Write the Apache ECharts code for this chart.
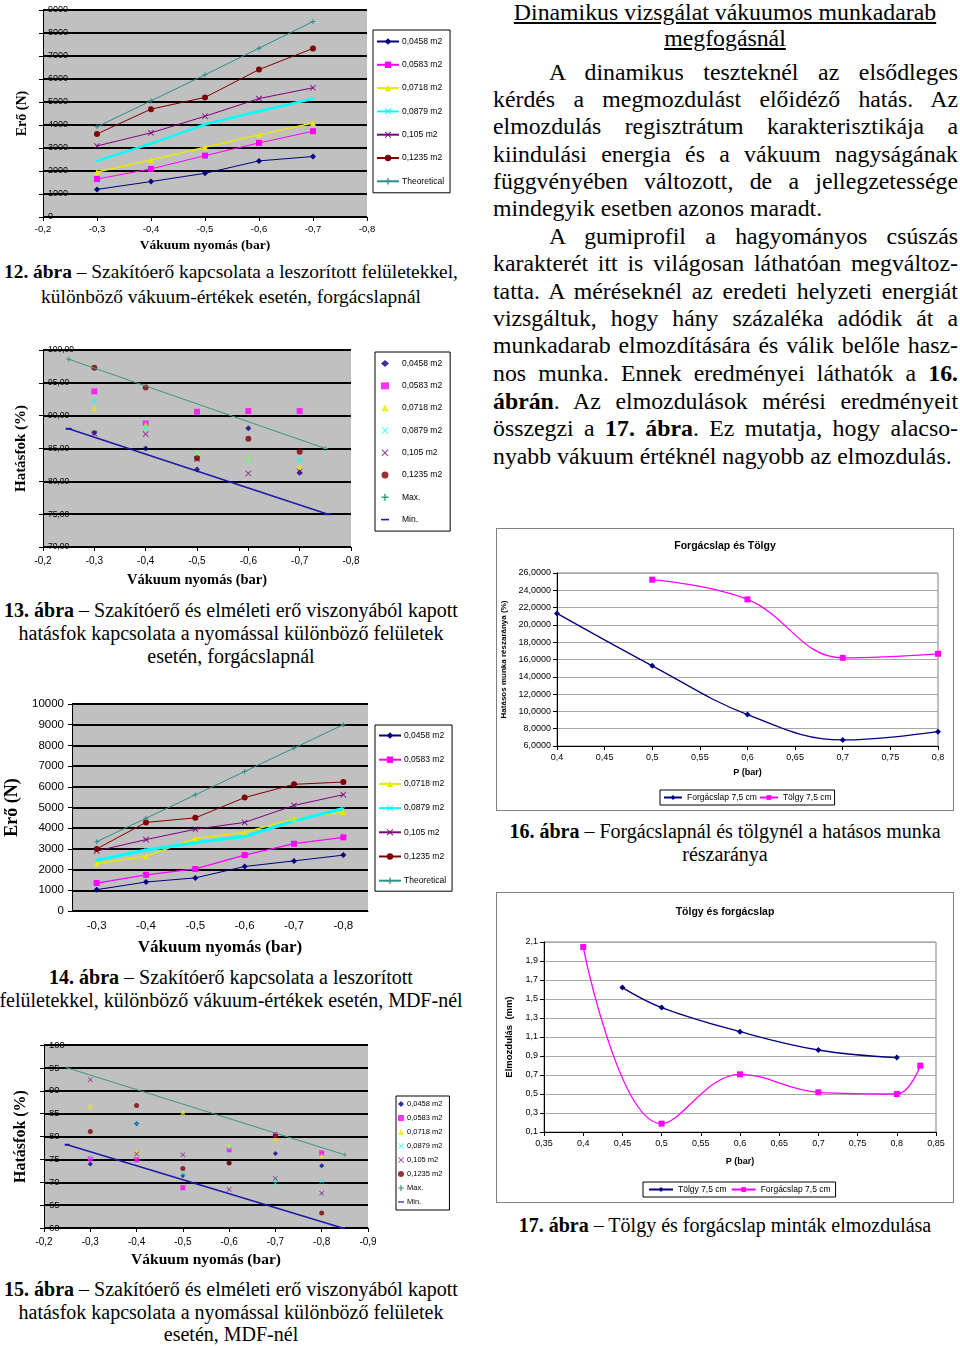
<!DOCTYPE html>
<html><head><meta charset="utf-8">
<script src="https://cdn.jsdelivr.net/npm/echarts/dist/echarts.min.js"></script>
<style>
body{margin:0;background:#fff;width:960px;height:1346px;position:relative;overflow:hidden;font-family:"Liberation Serif","Times New Roman",serif;color:#000}
.chart{position:absolute}
.frame{position:absolute;border:1px solid #808080;box-sizing:border-box}
.pl{position:absolute;left:493px;width:465px;height:28px;line-height:28px;font-size:23.8px;white-space:nowrap;text-align:justify;text-align-last:justify}
.pl.ind{padding-left:56px;width:409px}
.pl.last{text-align:left;text-align-last:left}
.tt{position:absolute;left:425px;width:600px;text-align:center;font-size:23.8px;line-height:28px;white-space:nowrap}
.tt span{text-decoration:underline}
.cap{position:absolute;width:600px;text-align:center;font-size:20px;line-height:24px;white-space:nowrap}
.cap.s{font-size:19.4px}
</style></head>
<body>
<!-- text column -->
<div class="tt" style="top:-2px"><span>Dinamikus vizsgálat vákuumos munkadarab</span></div>
<div class="tt" style="top:24px"><span>megfogásnál</span></div>
<div class="pl ind" style="top:58px">A dinamikus teszteknél az elsődleges</div>
<div class="pl" style="top:85px">kérdés a megmozdulást előidéző hatás. Az</div>
<div class="pl" style="top:112px">elmozdulás regisztrátum karakterisztikája a</div>
<div class="pl" style="top:140px">kiindulási energia és a vákuum nagyságának</div>
<div class="pl" style="top:167px">függvényében változott, de a jellegzetessége</div>
<div class="pl last" style="top:194px">mindegyik esetben azonos maradt.</div>
<div class="pl ind" style="top:222px">A gumiprofil a hagyományos csúszás</div>
<div class="pl" style="top:249px">karakterét itt is világosan láthatóan megváltoz-</div>
<div class="pl" style="top:277px">tatta. A méréseknél az eredeti helyzeti energiát</div>
<div class="pl" style="top:304px">vizsgáltuk, hogy hány százaléka adódik át a</div>
<div class="pl" style="top:331px">munkadarab elmozdítására és válik belőle hasz-</div>
<div class="pl" style="top:359px">nos munka. Ennek eredményei láthatók a <b>16.</b></div>
<div class="pl" style="top:387px"><b>ábrán</b>. Az elmozdulások mérési eredményeit</div>
<div class="pl" style="top:414px">összegzi a <b>17. ábra</b>. Ez mutatja, hogy alacso-</div>
<div class="pl last" style="top:442px">nyabb vákuum értéknél nagyobb az elmozdulás.</div>

<!-- captions -->
<div class="cap s" style="left:-69px;top:260px"><b>12. ábra</b> – Szakítóerő kapcsolata a leszorított felületekkel,</div>
<div class="cap s" style="left:-69px;top:285px">különböző vákuum-értékek esetén, forgácslapnál</div>
<div class="cap" style="left:-69px;top:598px"><b>13. ábra</b> – Szakítóerő és elméleti erő viszonyából kapott</div>
<div class="cap" style="left:-69px;top:621px">hatásfok kapcsolata a nyomással különböző felületek</div>
<div class="cap" style="left:-69px;top:644px">esetén, forgácslapnál</div>
<div class="cap" style="left:-69px;top:965px"><b>14. ábra</b> – Szakítóerő kapcsolata a leszorított</div>
<div class="cap" style="left:-69px;top:988px">felületekkel, különböző vákuum-értékek esetén, MDF-nél</div>
<div class="cap" style="left:-69px;top:1277px"><b>15. ábra</b> – Szakítóerő és elméleti erő viszonyából kapott</div>
<div class="cap" style="left:-69px;top:1300px">hatásfok kapcsolata a nyomással különböző felületek</div>
<div class="cap" style="left:-69px;top:1322px">esetén, MDF-nél</div>
<div class="cap" style="left:425px;top:819px"><b>16. ábra</b> – Forgácslapnál és tölgynél a hatásos munka</div>
<div class="cap" style="left:425px;top:842px">részaránya</div>
<div class="cap" style="left:425px;top:1213px"><b>17. ábra</b> – Tölgy és forgácslap minták elmozdulása</div>

<div class="frame" style="left:496px;top:528px;width:458px;height:283px"></div>
<div class="frame" style="left:496px;top:892px;width:458px;height:311px"></div>

<div id="c12" class="chart" style="left:0;top:0;width:460px;height:262px"></div>
<div id="c13" class="chart" style="left:0;top:340px;width:460px;height:256px"></div>
<div id="c14" class="chart" style="left:0;top:695px;width:460px;height:266px"></div>
<div id="c15" class="chart" style="left:0;top:1035px;width:460px;height:240px"></div>
<div id="c16" class="chart" style="left:496px;top:528px;width:458px;height:283px"></div>
<div id="c17" class="chart" style="left:496px;top:892px;width:458px;height:311px"></div>

<script>
// ---------- DATA ----------
const surfNames = ['0,0458 m2','0,0583 m2','0,0718 m2','0,0879 m2','0,105 m2','0,1235 m2'];

// Fig 12 (force, chipboard)
const c12X = [-0.3, -0.4, -0.5, -0.6, -0.7];
const c12_0458 = [1200, 1540, 1900, 2440, 2630];
const c12_0583 = [1650, 2090, 2670, 3220, 3730];
const c12_0718 = [1960, 2480, 3030, 3570, 4090];
const c12_0879 = [2440, 3190, 4030, 4600, 5140];
const c12_105  = [3090, 3660, 4380, 5150, 5620];
const c12_1235 = [3610, 4690, 5200, 6410, 7330];
const c12_theo = [3920, 5050, 6180, 7340, 8500];

// Fig 13 (efficiency, chipboard) [pressure, %]
const c13_0458 = [[-0.3,87.4],[-0.4,85.0],[-0.5,81.8],[-0.6,88.1],[-0.7,81.3]];
const c13_0583 = [[-0.3,93.7],[-0.4,88.8],[-0.5,90.6],[-0.6,90.7],[-0.7,90.7]];
const c13_0718 = [[-0.3,91.1],[-0.4,88.6],[-0.5,84.4],[-0.6,83.5],[-0.7,82.2]];
const c13_0879 = [[-0.3,92.2],[-0.4,88.2],[-0.5,84.1],[-0.6,83.3],[-0.7,83.3]];
const c13_105  = [[-0.3,87.3],[-0.4,87.2],[-0.5,83.4],[-0.6,81.2],[-0.7,81.5]];
const c13_1235 = [[-0.3,97.3],[-0.4,94.3],[-0.5,83.5],[-0.6,86.5],[-0.7,84.5]];
const c13_max  = [[-0.25,98.6],[-0.75,85.0]];
const c13_min  = [[-0.25,88.0],[-0.755,75.0]];

// Fig 14 (force, MDF)
const c14Cats = ['-0,3','-0,4','-0,5','-0,6','-0,7','-0,8'];
const c14_0458 = [1030, 1400, 1600, 2150, 2420, 2700];
const c14_0583 = [1350, 1750, 2030, 2700, 3250, 3560];
const c14_0718 = [2300, 2650, 3500, 3800, 4450, 4780];
const c14_0879 = [2450, 2950, 3300, 3600, 4350, 4950];
const c14_105  = [2900, 3450, 3950, 4280, 5100, 5620];
const c14_1235 = [3000, 4280, 4500, 5480, 6120, 6230];
const c14_theo = [3350, 4480, 5610, 6740, 7870, 9000];

// Fig 15 (efficiency, MDF)
const c15_0458 = [[-0.3,74.0],[-0.4,82.8],[-0.5,71.5],[-0.6,74.2],[-0.7,76.3],[-0.8,73.6]];
const c15_0583 = [[-0.3,75.1],[-0.4,74.9],[-0.5,68.8],[-0.6,77.1],[-0.7,80.4],[-0.8,76.4]];
const c15_0718 = [[-0.3,86.6],[-0.4,76.7],[-0.5,85.3],[-0.6,78.0],[-0.7,79.5],[-0.8,75.8]];
const c15_0879 = [[-0.3,75.4],[-0.4,82.8],[-0.5,71.8],[-0.6,77.5],[-0.7,69.8],[-0.8,70.2]];
const c15_105  = [[-0.3,92.4],[-0.4,76.2],[-0.5,76.0],[-0.6,68.4],[-0.7,70.8],[-0.8,67.6]];
const c15_1235 = [[-0.3,81.1],[-0.4,86.8],[-0.5,73.0],[-0.6,74.2],[-0.7,80.2],[-0.8,63.3]];
const c15_max  = [[-0.25,95.0],[-0.85,76.0]];
const c15_min  = [[-0.25,78.2],[-0.845,60.0]];

// Fig 16
const c16_forg  = [[0.4,21.33],[0.5,15.27],[0.6,9.63],[0.7,6.7],[0.8,7.66]];
const c16_tolgy = [[0.5,25.23],[0.6,22.95],[0.7,16.19],[0.8,16.66]];

// Fig 17
const c17_tolgy = [[0.45,1.62],[0.5,1.41],[0.6,1.156],[0.7,0.963],[0.8,0.883]];
const c17_forg  = [[0.4,2.047],[0.5,0.188],[0.6,0.707],[0.7,0.518],[0.8,0.5],[0.83,0.798]];

// ---------- STYLE ----------
const COL = ['#000080','#ff00ff','#e8e800','#00ffff','#800080','#800000'];
const THEO = '#2e8f8f', MAXC = '#3a9a78', MINC = '#1a1aa8';
const SYM_X = 'path://M0,1L1,0L5,4L9,0L10,1L6,5L10,9L9,10L5,6L1,10L0,9L4,5Z';
const SYM_PLUS = 'path://M4,0H6V4H10V6H6V10H4V6H0V4H4Z';
const SYM_DASH = 'path://M0,0H10V3H0Z';
const SYMS = ['diamond','rect','triangle',SYM_X,SYM_X,'circle'];
const SANS = '"Liberation Sans", Arial, sans-serif';
const SERIF = '"Liberation Serif","Times New Roman", serif';
const f1 = v => v.toFixed(1).replace('.', ',');
const f2 = v => v.toFixed(2).replace('.', ',');

function excelAxes(o){
  return {
    xAxis: {
      type:'value', inverse:true, min:o.xmin, max:o.xmax, interval:0.1,
      axisLine:{show:true,onZero:false,lineStyle:{color:'#000',width:1}},
      axisTick:{show:true,length:4,lineStyle:{color:'#000'}},
      axisLabel:{formatter:f1,fontSize:o.xfs||10,fontFamily:SANS,color:'#000',margin:o.xlm||8},
      splitLine:{show:false},
      name:'Vákuum nyomás (bar)', nameLocation:'middle', nameGap:o.xng,
      nameTextStyle:{fontFamily:SERIF,fontWeight:'bold',fontSize:o.xnfs,color:'#000'}
    },
    yAxis: {
      type:'value', min:o.ymin, max:o.ymax, interval:o.yint,
      axisLine:{show:true,onZero:false,lineStyle:{color:'#000',width:1}},
      axisTick:{show:true,length:4,inside:false,lineStyle:{color:'#000'}},
      axisLabel:{inside:o.yin,formatter:o.yfmt,fontSize:o.yfs,fontFamily:SANS,color:'#000',margin:o.ylm},
      splitLine:{show:true,lineStyle:{color:'#000',width:2}},
      name:o.yname, nameLocation:'middle', nameGap:o.yng,
      nameTextStyle:{fontFamily:SERIF,fontWeight:'bold',fontSize:o.ynfs,color:'#000'}
    }
  };
}
function legendBox(o){
  return Object.assign({
    orient:'vertical', backgroundColor:'#fff', borderColor:'#000', borderWidth:1,
    itemWidth:22, itemHeight:8, align:'left',
    textStyle:{fontSize:8.5,fontFamily:SANS,color:'#000',padding:[0,0,0,-2]}
  }, o);
}
const scatterLegendData = () => [...surfNames, {name:'Max.', icon:SYM_PLUS}, {name:'Min.', icon:'path://M0,0H10V2H0Z'}];

// ---- Fig 12 ----
(function(){
  const vals=[c12_0458,c12_0583,c12_0718,c12_0879,c12_105,c12_1235];
  const widths=[1,1,1.5,2.5,1,1];
  const series=vals.map((v,i)=>({
    name:surfNames[i], type:'line', data:v.map((y,k)=>[c12X[k],y]),
    symbol:SYMS[i], symbolSize: i===3?4:6, showSymbol:true,
    lineStyle:{color:COL[i],width:widths[i]}, itemStyle:{color:COL[i]}
  }));
  series.push({name:'Theoretical',type:'line',data:c12_theo.map((y,k)=>[c12X[k],y]),
    symbol:SYM_PLUS,symbolSize:5,lineStyle:{color:THEO,width:1},itemStyle:{color:THEO}});
  const ax=excelAxes({xmin:-0.8,xmax:-0.2,xng:22,xnfs:13.5,xfs:9.5,xlm:7,
    ymin:0,ymax:9000,yint:1000,yin:true,yfmt:v=>String(v),yfs:9,ylm:5,
    yname:'Erő (N)',yng:14,ynfs:14});
  const c=echarts.init(document.getElementById('c12'));
  c.setOption(Object.assign({animation:false,
    grid:{left:43,top:10,width:324,height:207,show:true,backgroundColor:'#c0c0c0',borderWidth:0,outerBoundsMode:'none'},
    legend:legendBox({left:373,top:30,padding:[7,6,7,3],itemGap:14.3,data:[...surfNames,'Theoretical']}),
    series},ax));
})();

// ---- Fig 13 ----
(function(){
  const vals=[c13_0458,c13_0583,c13_0718,c13_0879,c13_105,c13_1235];
  const series=vals.map((v,i)=>({
    name:surfNames[i], type:'scatter', data:v, symbol:SYMS[i], symbolSize:6,
    itemStyle:{color:COL[i]}
  }));
  series.push({name:'Max.',type:'line',data:c13_max,symbol:SYM_PLUS,symbolSize:5,lineStyle:{color:MAXC,width:1},itemStyle:{color:MAXC}});
  series.push({name:'Min.',type:'line',data:c13_min,symbol:SYM_DASH,symbolSize:[6,2],lineStyle:{color:MINC,width:1.5},itemStyle:{color:MINC}});
  const ax=excelAxes({xmin:-0.8,xmax:-0.2,xng:26,xnfs:14.5,xfs:10,xlm:9,
    ymin:70,ymax:100,yint:5,yin:true,yfmt:f2,yfs:8.5,ylm:5,
    yname:'Hatásfok (%)',yng:14,ynfs:15});
  const c=echarts.init(document.getElementById('c13'));
  c.setOption(Object.assign({animation:false,
    grid:{left:43,top:10,width:308,height:197,show:true,backgroundColor:'#c0c0c0',borderWidth:0,outerBoundsMode:'none'},
    legend:legendBox({left:375,top:12,padding:[7,8,7,6],itemGap:13.3,itemWidth:8,itemHeight:7,
      textStyle:{fontSize:8.5,fontFamily:SANS,color:'#000',padding:[0,0,0,8]},
      data:scatterLegendData()}),
    series},ax));
})();

// ---- Fig 14 ----
(function(){
  const vals=[c14_0458,c14_0583,c14_0718,c14_0879,c14_105,c14_1235];
  const widths=[1,1.3,1.5,3,1,1];
  const series=vals.map((v,i)=>({
    name:surfNames[i], type:'line', data:v,
    symbol:SYMS[i], symbolSize: i===3?4:6,
    lineStyle:{color:COL[i],width:widths[i]}, itemStyle:{color:COL[i]}
  }));
  series.push({name:'Theoretical',type:'line',data:c14_theo,symbol:SYM_PLUS,symbolSize:5,lineStyle:{color:THEO,width:1},itemStyle:{color:THEO}});
  const c=echarts.init(document.getElementById('c14'));
  c.setOption({animation:false,
    grid:{left:72,top:9,width:296,height:207,show:true,backgroundColor:'#c0c0c0',borderWidth:0,outerBoundsMode:'none'},
    legend:legendBox({left:375,top:30,padding:[6,6,6,3],itemGap:15.2,data:[...surfNames,'Theoretical']}),
    xAxis:{type:'category',data:c14Cats,boundaryGap:true,
      axisLine:{lineStyle:{color:'#000'}},axisTick:{length:5,lineStyle:{color:'#000'}},
      axisLabel:{fontSize:11.5,fontFamily:SANS,color:'#000',margin:9},
      name:'Vákuum nyomás (bar)',nameLocation:'middle',nameGap:28,
      nameTextStyle:{fontFamily:SERIF,fontWeight:'bold',fontSize:17,color:'#000'}},
    yAxis:{type:'value',min:0,max:10000,interval:1000,
      axisLine:{show:true,lineStyle:{color:'#000'}},axisTick:{show:true,length:4,lineStyle:{color:'#000'}},
      axisLabel:{formatter:v=>String(v),fontSize:11.5,fontFamily:SANS,color:'#000',margin:8},
      splitLine:{lineStyle:{color:'#000',width:2}},
      name:'Erő (N)',nameLocation:'middle',nameGap:42,
      nameTextStyle:{fontFamily:SERIF,fontWeight:'bold',fontSize:18,color:'#000'}},
    series});
})();

// ---- Fig 15 ----
(function(){
  const vals=[c15_0458,c15_0583,c15_0718,c15_0879,c15_105,c15_1235];
  const series=vals.map((v,i)=>({
    name:surfNames[i], type:'scatter', data:v, symbol:SYMS[i], symbolSize:5,
    itemStyle:{color:COL[i]}
  }));
  series.push({name:'Max.',type:'line',data:c15_max,symbol:SYM_PLUS,symbolSize:4,lineStyle:{color:MAXC,width:1},itemStyle:{color:MAXC}});
  series.push({name:'Min.',type:'line',data:c15_min,symbol:SYM_DASH,symbolSize:[5,2],lineStyle:{color:MINC,width:1.5},itemStyle:{color:MINC}});
  const ax=excelAxes({xmin:-0.9,xmax:-0.2,xng:24,xnfs:15.5,xfs:10,xlm:9,
    ymin:60,ymax:100,yint:5,yin:true,yfmt:v=>String(v),yfs:9.5,ylm:5,
    yname:'Hatásfok (%)',yng:15,ynfs:16});
  const c=echarts.init(document.getElementById('c15'));
  c.setOption(Object.assign({animation:false,
    grid:{left:44,top:10,width:324,height:183,show:true,backgroundColor:'#c0c0c0',borderWidth:0,outerBoundsMode:'none'},
    legend:legendBox({left:396,top:61,padding:[4,7,4,2],itemGap:6,itemWidth:6,itemHeight:6,
      textStyle:{fontSize:7.5,fontFamily:SANS,color:'#000',padding:[0,0,0,-2]},data:scatterLegendData()}),
    series},ax));
})();

// ---- Fig 16 / 17 ----
function whiteChart(id,o){
  const c=echarts.init(document.getElementById(id));
  const xf=v=>String(+v.toFixed(2)).replace('.',',');
  c.setOption({animation:false,
    title:{text:o.title,left:'center',top:o.tt,textStyle:{fontFamily:SANS,fontWeight:'bold',fontSize:10.5,color:'#000'}},
    grid:Object.assign({show:true,borderColor:'#808080',borderWidth:1,backgroundColor:'#fff',outerBoundsMode:'none'},o.grid),
    legend:{left:o.lg[0],top:o.lg[1],orient:'horizontal',borderColor:'#000',borderWidth:1,padding:[3,o.lgp],
      itemWidth:o.lgw,itemHeight:6,itemGap:o.lgg,textStyle:{fontFamily:SANS,fontSize:8.5,color:'#000'},data:o.series.map(s=>s.name)},
    xAxis:{type:'value',min:o.xmin,max:o.xmax,interval:0.05,
      axisLine:{onZero:false,lineStyle:{color:'#000'}},axisTick:{length:4,lineStyle:{color:'#000'}},
      axisLabel:{formatter:xf,fontFamily:SANS,fontSize:9,color:'#000',margin:7},
      splitLine:{show:false},
      name:'P (bar)',nameLocation:'middle',nameGap:o.xng,nameTextStyle:{fontFamily:SANS,fontWeight:'bold',fontSize:9,color:'#000'}},
    yAxis:{type:'value',min:o.ymin,max:o.ymax,interval:o.yint,
      axisLine:{show:true,onZero:false,lineStyle:{color:'#000'}},axisTick:{show:true,length:4,lineStyle:{color:'#000'}},
      axisLabel:{formatter:o.yf,fontFamily:SANS,fontSize:9,color:'#000',margin:6},
      splitLine:{lineStyle:{color:'#a8a8a8',width:1}},
      name:o.yname,nameLocation:'middle',nameGap:o.yng,nameTextStyle:{fontFamily:SANS,fontWeight:'bold',fontSize:o.ynfs,color:'#000'}},
    series:o.series.map(s=>({name:s.name,type:'line',smooth:0.4,data:s.data,symbol:s.sym,symbolSize:6,
      lineStyle:{color:s.color,width:1.3},itemStyle:{color:s.color}}))
  });
}
whiteChart('c16',{title:'Forgácslap és Tölgy',tt:8,grid:{left:61,top:45,width:381,height:173},lg:[164,262],lgw:18,lgg:2,lgp:3,
  xmin:0.4,xmax:0.8,ymin:6,ymax:26,yint:2,yf:v=>v.toFixed(4).replace('.',','),
  yname:'Hatásos munka részaránya (%)',yng:31,ynfs:8,xng:22,
  series:[{name:'Forgácslap 7,5 cm',data:c16_forg,color:'#000080',sym:'diamond'},
          {name:'Tölgy 7,5 cm',data:c16_tolgy,color:'#ff00ff',sym:'rect'}]});
whiteChart('c17',{title:'Tölgy és forgácslap',tt:10,grid:{left:48,top:50,width:392,height:190},lg:[147,290],lgw:24,lgg:4,lgp:5,
  xmin:0.35,xmax:0.85,ymin:0.1,ymax:2.1,yint:0.2,yf:v=>v.toFixed(1).replace('.',','),
  yname:'Elmozdulás  (mm)',yng:16,ynfs:9.5,xng:25,
  series:[{name:'Tölgy 7,5 cm',data:c17_tolgy,color:'#000080',sym:'diamond'},
          {name:'Forgácslap 7,5 cm',data:c17_forg,color:'#ff00ff',sym:'rect'}]});
</script>
</body></html>
